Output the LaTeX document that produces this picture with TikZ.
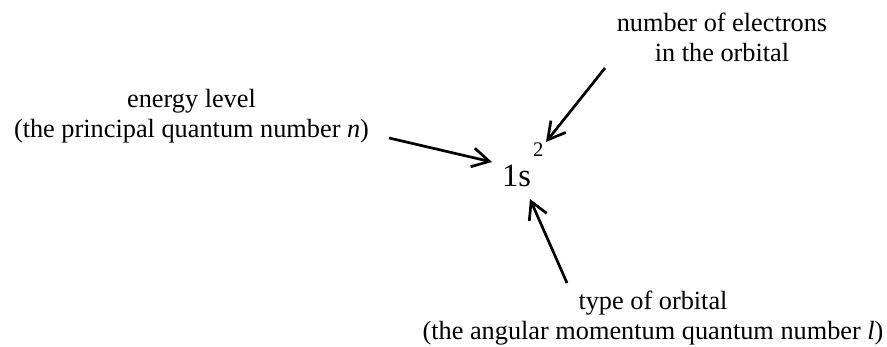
\documentclass[tikz,border=0pt]{standalone}
\usepackage{fontspec}
\setmainfont{Liberation Serif}
\usetikzlibrary{arrows.meta}
\begin{document}
\begin{tikzpicture}[x=1pt,y=-1pt,
  lbl/.style={font=\fontsize{26.3}{30}\selectfont, align=center, inner sep=0pt, anchor=base},
  ptr/.style={line width=2.7pt, -{Straight Barb[length=17pt,width=19pt]}}]
\useasboundingbox (0,0) rectangle (887,347);
\node[lbl] (energy) at (191.5,138) {energy level\\(the principal quantum number \textit{n})};
\node[lbl] (elec) at (722,62) {number of electrons\\in the orbital};
\node[lbl] (type) at (653,340) {type of orbital\\(the angular momentum quantum number \textit{l})};
\node[inner sep=0pt, anchor=base west, font=\fontsize{32.5}{36}\selectfont] (orb) at (502,187) {1s};
\node[inner sep=0pt, anchor=base west, font=\fontsize{20.7}{24}\selectfont] (sup) at (533,157) {2};
\coordinate (e1) at (389,138);
\coordinate (t1) at (492,162);
\coordinate (e2) at (605,68);
\coordinate (t2) at (546,142);
\coordinate (e3) at (567,283);
\coordinate (t3) at (530,199);
\draw[ptr] (e1) -- (t1);
\draw[ptr] (e2) -- (t2);
\draw[ptr] (e3) -- (t3);
\end{tikzpicture}
\end{document}
